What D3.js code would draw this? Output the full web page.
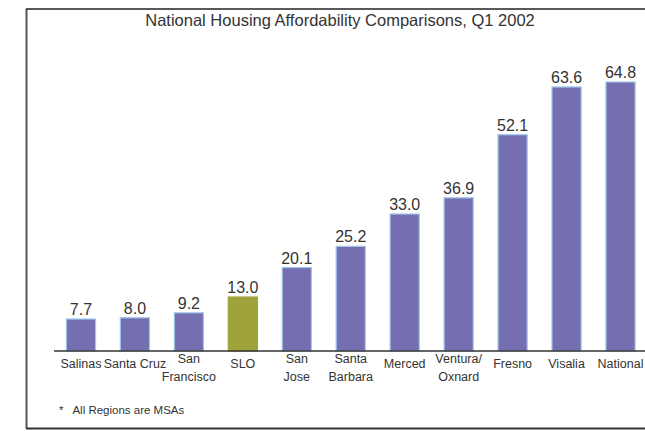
<!DOCTYPE html>
<html>
<head>
<meta charset="utf-8">
<script src="https://cdn.jsdelivr.net/npm/d3@7"></script>
<style>
  body { margin: 0; background: #fff; }
  svg { display: block; font-family: "Liberation Sans", Arial, sans-serif; }
</style>
</head>
<body>
<div id="chart"></div>
<script>
// data
var regions = ["Salinas", "Santa Cruz", "San Francisco", "SLO", "San Jose", "Santa Barbara",
               "Merced", "Ventura/ Oxnard", "Fresno", "Visalia", "National"];
var labelLines = [["Salinas"], ["Santa Cruz"], ["San", "Francisco"], ["SLO"], ["San", "Jose"],
                  ["Santa", "Barbara"], ["Merced"], ["Ventura/", "Oxnard"], ["Fresno"], ["Visalia"], ["National"]];
var affordability = [7.7, 8.0, 9.2, 13.0, 20.1, 25.2, 33.0, 36.9, 52.1, 63.6, 64.8];
var highlight = "SLO";

var width = 645, height = 431;
var baseY = 351;

var svg = d3.select("#chart").append("svg")
  .attr("width", width)
  .attr("height", height);

// frame
svg.append("line").attr("x1", 26.5).attr("x2", 26.5).attr("y1", 9).attr("y2", 428.5)
  .style("stroke", "#555").style("stroke-width", 2);
svg.append("line").attr("x1", 26).attr("x2", width).attr("y1", 9).attr("y2", 9)
  .style("stroke", "#222").style("stroke-width", 1.5);
svg.append("line").attr("x1", 26).attr("x2", width).attr("y1", 428.5).attr("y2", 428.5)
  .style("stroke", "#333").style("stroke-width", 2);

// title
svg.append("text")
  .attr("x", 340)
  .attr("y", 26)
  .attr("text-anchor", "middle")
  .style("font-size", "16.5px")
  .style("fill", "#333")
  .text("National Housing Affordability Comparisons, Q1 2002");

var x = d3.scaleBand()
  .domain(regions)
  .range([54, 647.5])
  .paddingInner(0.46)
  .paddingOuter(0.23);

var y = d3.scaleLinear()
  .domain([0, 64.8])
  .range([baseY, 82]);

// bars
svg.append("g")
  .selectAll("rect")
  .data(regions)
  .enter()
  .append("rect")
  .attr("x", (d) => x(d))
  .attr("width", x.bandwidth())
  .attr("y", (d, i) => y(affordability[i]))
  .attr("height", (d, i) => baseY - y(affordability[i]))
  .style("fill", (d) => d === highlight ? "#9ea43b" : "#756fb2")
  .style("stroke", (d) => d === highlight ? "#9ea43b" : "#9fc6ea")
  .style("stroke-width", 1.2);

// value labels
svg.append("g")
  .selectAll("text")
  .data(regions)
  .enter()
  .append("text")
  .attr("x", (d) => x(d) + x.bandwidth() / 2)
  .attr("y", (d, i) => y(affordability[i]) - 4)
  .attr("text-anchor", "middle")
  .style("font-size", "16px")
  .style("fill", "#333")
  .text((d, i) => affordability[i].toFixed(1));

// axis line
svg.append("line")
  .attr("x1", 54).attr("x2", width)
  .attr("y1", baseY).attr("y2", baseY)
  .style("stroke", "#333").style("stroke-width", 1.5);

// category labels
var cats = svg.append("g")
  .selectAll("text")
  .data(regions)
  .enter()
  .append("text")
  .attr("text-anchor", "middle")
  .style("font-size", "12.5px")
  .style("fill", "#333");

cats.each(function(d, i) {
  var lines = labelLines[i];
  var cx = x(d) + x.bandwidth() / 2;
  var top = lines.length === 1 ? 368 : 363;
  d3.select(this).selectAll("tspan")
    .data(lines)
    .enter()
    .append("tspan")
    .attr("x", cx)
    .attr("y", (l, j) => top + j * 18)
    .text((l) => l);
});

// footnote
svg.append("text")
  .attr("x", 59)
  .attr("y", 414)
  .style("font-size", "11.5px")
  .style("fill", "#333")
  .style("white-space", "pre")
  .text("*   All Regions are MSAs");
</script>
</body>
</html>
